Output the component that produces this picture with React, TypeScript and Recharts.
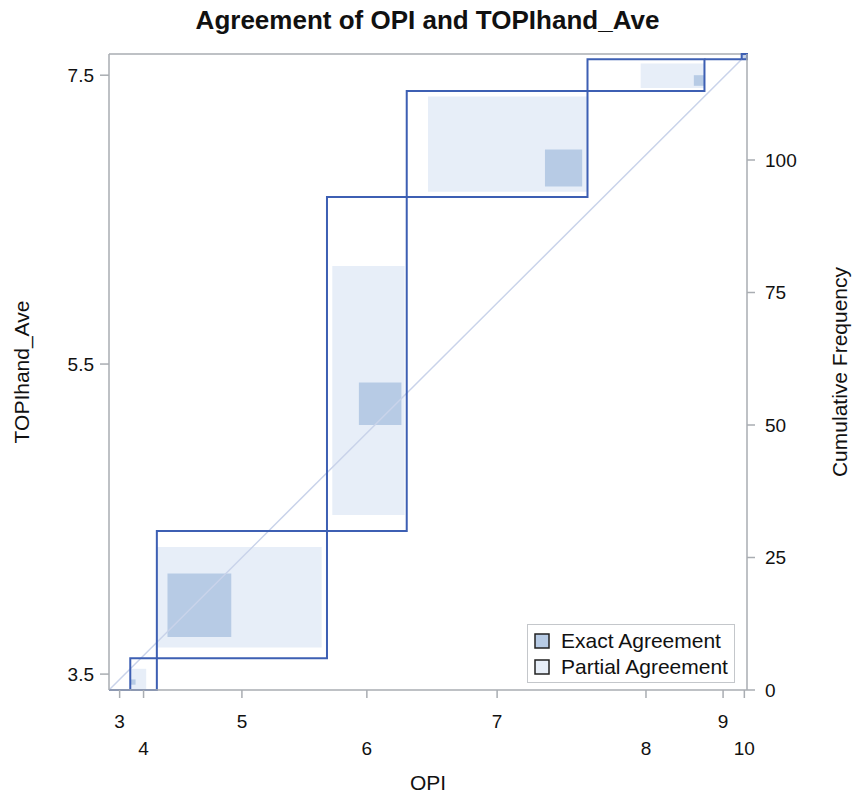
import React from 'react';
import { ComposedChart, Line, XAxis, YAxis, ReferenceArea, ReferenceLine } from 'recharts';

// Category counts, in level order, for each rater
const opiLevels = ['3', '4', '5', '6', '7', '8', '9', '10'];
const opiCounts = [4, 5, 32, 15, 34, 22, 7, 1];
const topiCounts = [0, 6, 24, 63, 20, 6, 0, 1];
const topiLabels = ['', '3.5', '', '5.5', '', '7.5', '', ''];
const freqTicks = [0, 25, 50, 75, 100];

// Shaded boxes in cumulative-frequency units: [x0, x1, y0, y1]
const partialBoxes = [
  [4, 7, 0, 4],
  [9, 40, 8, 27],
  [42, 55.6, 33, 80],
  [60, 90, 94, 112],
  [100, 112, 113.6, 118.2],
];
const exactBoxes = [
  [4, 5, 1, 2],
  [11, 23, 10, 22],
  [47, 55, 50, 58],
  [82, 89, 95, 102],
  [110, 112, 114, 116],
  [119, 120, 119, 120],
];

const FONT = '"Liberation Sans", Arial, sans-serif';
const AXIS_GRAY = '#a9adb2';
const OUTLINE = '#3d5fb3';
const PARTIAL_FILL = '#e7eef8';
const EXACT_FILL = '#b7cbe5';

const cumulative = (counts: number[]) => {
  const out = [0];
  counts.forEach((c) => out.push(out[out.length - 1] + c));
  return out;
};
const cumX = cumulative(opiCounts);
const cumY = cumulative(topiCounts);
const total = cumX[cumX.length - 1];

const opiTicks = opiLevels.map((_, i) => (cumX[i] + cumX[i + 1]) / 2);
const topiTicks: number[] = [];
const topiTickLabel: Record<number, string> = {};
topiLabels.forEach((lab, i) => {
  if (!lab) return;
  const mid = (cumY[i] + cumY[i + 1]) / 2;
  topiTicks.push(mid);
  topiTickLabel[mid] = lab;
});

// one closed outline per level: width from OPI counts, height from TOPIhand_Ave counts
const outlines = opiCounts.map((_, i) => [
  { x: cumX[i], y: cumY[i] },
  { x: cumX[i + 1], y: cumY[i] },
  { x: cumX[i + 1], y: cumY[i + 1] },
  { x: cumX[i], y: cumY[i + 1] },
  { x: cumX[i], y: cumY[i] },
]);
const diagonal = [
  { x: 0, y: 0 },
  { x: total, y: total },
];

const OpiTick = (props: any) => {
  const { x, y, payload, index } = props;
  const i = opiTicks.indexOf(payload.value);
  return (
    <text x={x} y={y + (index % 2 === 0 ? 28 : 55)} textAnchor="middle" fill="#111" fontSize={19} fontFamily={FONT}>
      {opiLevels[i]}
    </text>
  );
};

const AgreementLegend = () => (
  <div
    style={{
      position: 'absolute',
      left: 527,
      top: 624,
      border: '1px solid #c4c7cb',
      background: '#fff',
      padding: '3px 6px 2px 6px',
      fontFamily: FONT,
      fontSize: 21,
      color: '#111',
      lineHeight: '26px',
    }}
  >
    {[
      { name: 'Exact Agreement', fill: EXACT_FILL },
      { name: 'Partial Agreement', fill: PARTIAL_FILL },
    ].map((item) => (
      <div key={item.name} style={{ display: 'flex', alignItems: 'center', whiteSpace: 'nowrap' }}>
        <svg width={16} height={16} style={{ marginRight: 11 }}>
          <rect x={1} y={1} width={14} height={14} fill={item.fill} stroke="#222" strokeWidth={1.5} />
        </svg>
        {item.name}
      </div>
    ))}
  </div>
);

export default function App() {
  return (
    <div style={{ position: 'absolute', left: 0, top: 0, width: 855, height: 804, background: '#fff' }}>
      <div
        style={{
          position: 'absolute',
          top: 5,
          left: 0,
          width: 855,
          textAlign: 'center',
          fontFamily: FONT,
          fontWeight: 'bold',
          fontSize: 26,
          color: '#111',
        }}
      >
        Agreement of OPI and TOPIhand_Ave
      </div>
      <ComposedChart width={855} height={804} margin={{ top: 54, right: 0, bottom: 0, left: 0 }}>
        <XAxis
          xAxisId="cum"
          dataKey="x"
          type="number"
          domain={[0, total]}
          ticks={opiTicks}
          interval={0}
          tick={<OpiTick />}
          tickSize={8}
          height={114}
          stroke={AXIS_GRAY}
          strokeWidth={1.5}
          label={{ value: 'OPI', position: 'insideBottom', offset: 14, fill: '#111', fontSize: 21, fontFamily: FONT }}
        />
        <YAxis
          yAxisId="left"
          type="number"
          domain={[0, total]}
          ticks={topiTicks}
          interval={0}
          width={109}
          tickSize={9}
          tickMargin={6}
          stroke={AXIS_GRAY}
          strokeWidth={1.5}
          tickFormatter={(v) => topiTickLabel[v] ?? ''}
          tick={{ fill: '#111', fontSize: 19, fontFamily: FONT }}
          label={{
            value: 'TOPIhand_Ave',
            angle: -90,
            position: 'insideLeft',
            offset: 22,
            fill: '#111',
            fontSize: 21,
            fontFamily: FONT,
            style: { textAnchor: 'middle' },
          }}
        />
        <YAxis
          yAxisId="right"
          orientation="right"
          type="number"
          domain={[0, total]}
          ticks={freqTicks}
          interval={0}
          width={108}
          tickSize={8}
          tickMargin={10}
          stroke={AXIS_GRAY}
          strokeWidth={1.5}
          tick={{ fill: '#111', fontSize: 19, fontFamily: FONT }}
          label={{
            value: 'Cumulative Frequency',
            angle: -90,
            position: 'insideRight',
            offset: 15,
            fill: '#111',
            fontSize: 21,
            fontFamily: FONT,
            style: { textAnchor: 'middle' },
          }}
        />
        <ReferenceLine xAxisId="cum" yAxisId="left" y={total} stroke={AXIS_GRAY} strokeWidth={1.5} />

        {partialBoxes.map(([x0, x1, y0, y1], i) => (
          <ReferenceArea
            key={`p${i}`}
            xAxisId="cum"
            yAxisId="left"
            x1={x0}
            x2={x1}
            y1={y0}
            y2={y1}
            fill={PARTIAL_FILL}
            fillOpacity={1}
            stroke="none"
          />
        ))}
        {exactBoxes.map(([x0, x1, y0, y1], i) => (
          <ReferenceArea
            key={`e${i}`}
            xAxisId="cum"
            yAxisId="left"
            x1={x0}
            x2={x1}
            y1={y0}
            y2={y1}
            fill={EXACT_FILL}
            fillOpacity={1}
            stroke="none"
          />
        ))}
        {/* reference diagonal, plotted against the cumulative frequency axis */}
        <Line
          xAxisId="cum"
          yAxisId="right"
          data={diagonal}
          dataKey="y"
          type="linear"
          stroke="#c9d3ea"
          strokeWidth={1.5}
          dot={false}
          activeDot={false}
          isAnimationActive={false}
        />
        {outlines.map((pts, i) => (
          <Line
            key={`o${i}`}
            xAxisId="cum"
            yAxisId="left"
            data={pts}
            dataKey="y"
            type="linear"
            stroke={OUTLINE}
            strokeWidth={2}
            dot={false}
            activeDot={false}
            isAnimationActive={false}
          />
        ))}
      </ComposedChart>
      <AgreementLegend />
    </div>
  );
}
